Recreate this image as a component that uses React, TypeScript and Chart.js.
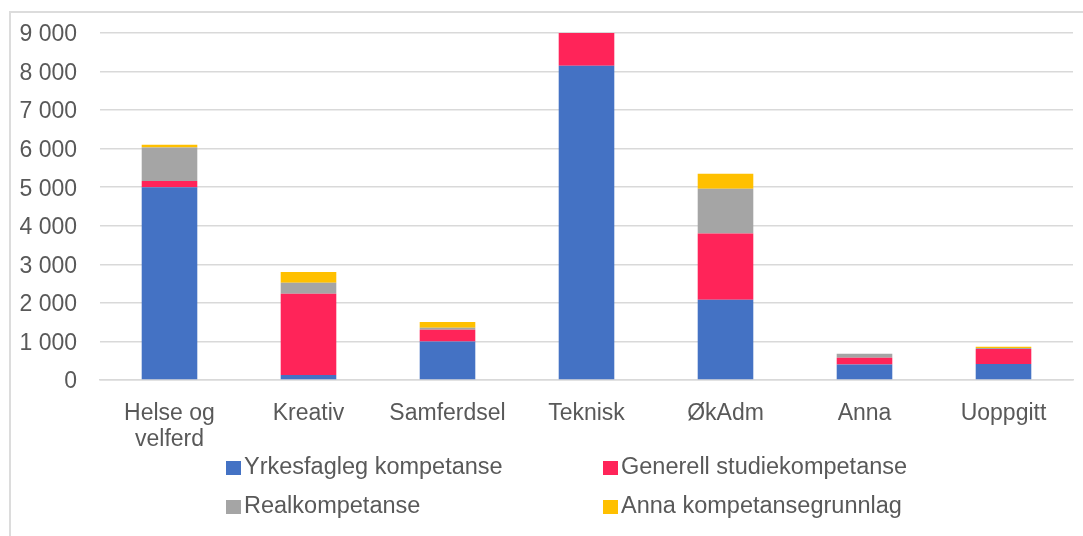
import React, { useEffect, useRef } from "react";
import { Chart, registerables } from "chart.js";

Chart.register(...registerables);

const categories: (string | string[])[] = [
  ["Helse og", "velferd"],
  "Kreativ",
  "Samferdsel",
  "Teknisk",
  "ØkAdm",
  "Anna",
  "Uoppgitt",
];

const yrkesfagleg = [5000, 130, 1000, 8150, 2080, 400, 415];
const generell = [160, 2110, 305, 850, 1720, 180, 390];
const realkompetanse = [870, 285, 50, 0, 1160, 100, 25];
const annaGrunnlag = [70, 275, 150, 0, 390, 0, 30];

const seriesNames = [
  "Yrkesfagleg kompetanse",
  "Generell studiekompetanse",
  "Realkompetanse",
  "Anna kompetansegrunnlag",
];
const seriesColors = ["#4472C4", "#FF2459", "#A5A5A5", "#FFC000"];

const yMin = 0;
const yMax = 9000;
const yStep = 1000;

const FONT = "'Liberation Sans', Arial, sans-serif";
const TEXT = "#595959";

function fmt(v: number): string {
  return String(Math.round(v)).replace(/\B(?=(\d{3})+(?!\d))/g, " ");
}

const gridLegend = {
  id: "gridLegend",
  afterDraw(chart: any) {
    const ctx = chart.ctx as CanvasRenderingContext2D;
    const cols = [226, 603];
    const rows = [467, 506];
    ctx.save();
    ctx.font = `23.5px ${FONT}`;
    ctx.textBaseline = "middle";
    ctx.textAlign = "left";
    chart.data.datasets.forEach((ds: any, i: number) => {
      const x = cols[i % 2];
      const y = rows[Math.floor(i / 2)];
      ctx.fillStyle = ds.backgroundColor;
      ctx.fillRect(x, y - 6, 15, 14);
      ctx.fillStyle = TEXT;
      ctx.fillText(ds.label, x + 18, y + 1);
    });
    ctx.restore();
  },
};

export default function App() {
  const ref = useRef<HTMLCanvasElement | null>(null);

  useEffect(() => {
    if (!ref.current) return;
    const data = [yrkesfagleg, generell, realkompetanse, annaGrunnlag];
    const chart = new Chart(ref.current, {
      type: "bar",
      data: {
        labels: categories,
        datasets: seriesNames.map((name, i) => ({
          label: name,
          data: data[i],
          backgroundColor: seriesColors[i],
          borderWidth: 0,
          barPercentage: 0.4,
          categoryPercentage: 1,
        })),
      },
      options: {
        responsive: false,
        animation: false,
        devicePixelRatio: 1,
        layout: { padding: { left: 0, right: 10, top: 33, bottom: 86 } },
        plugins: {
          legend: { display: false },
          tooltip: { enabled: false },
        },
        scales: {
          x: {
            stacked: true,
            grid: { display: false },
            border: { display: true, color: "#d9d9d9", width: 1.5 },
            ticks: {
              color: TEXT,
              font: { family: FONT, size: 23, lineHeight: 1.15 },
              padding: 12,
              maxRotation: 0,
              autoSkip: false,
            },
            afterFit: (s: any) => {
              s.height = 70;
            },
          },
          y: {
            stacked: true,
            min: yMin,
            max: yMax,
            grid: {
              color: "#d9d9d9",
              lineWidth: 1.5,
              drawTicks: true,
              tickLength: 23,
              tickColor: "rgba(0,0,0,0)",
            },
            border: { display: false },
            ticks: {
              stepSize: yStep,
              color: TEXT,
              padding: 0,
              labelOffset: 2,
              font: { family: FONT, size: 23 },
              callback: (v: any) => fmt(Number(v)),
            },
            afterFit: (s: any) => {
              s.width = 100;
            },
          },
        },
      },
      plugins: [gridLegend],
    });
    return () => chart.destroy();
  }, []);

  return (
    <div style={{ position: "fixed", inset: 0, overflow: "hidden", background: "#fff" }}>
      <div
        style={{
          position: "absolute",
          left: 9,
          top: 11,
          width: 1200,
          height: 700,
          border: "2px solid #dcdcdc",
          boxSizing: "border-box",
        }}
      />
      <canvas
        ref={ref}
        width={1083}
        height={536}
        style={{ position: "absolute", left: 0, top: 0, width: "1083px", height: "536px" }}
      />
    </div>
  );
}
